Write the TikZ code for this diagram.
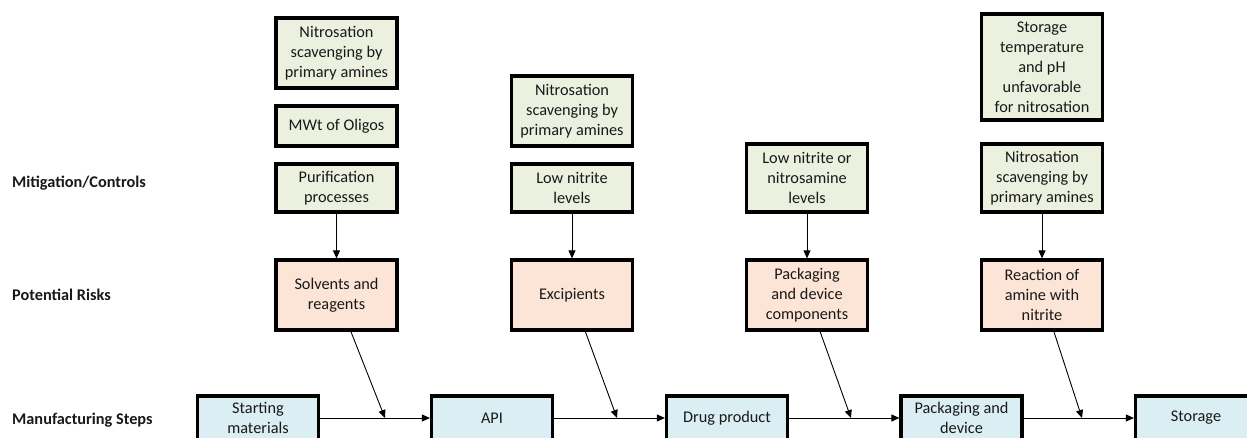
\documentclass[tikz,border=0pt]{standalone}
\usepackage{fontspec}
\setmainfont{Carlito}
\usetikzlibrary{arrows.meta}
\definecolor{mitfill}{RGB}{235,241,222}
\definecolor{riskfill}{RGB}{252,229,214}
\definecolor{stepfill}{RGB}{218,238,243}
\definecolor{txt}{RGB}{25,25,25}
\tikzset{
  box/.style={draw=black, line width=3.2pt, minimum width=121pt, inner sep=0pt,
    align=center, text=txt, font=\fontsize{16.3}{20}\selectfont},
  mitbox/.style={box, fill=mitfill},
  riskbox/.style={box, fill=riskfill, minimum height=70pt},
  stepbox/.style={box, fill=stepfill, minimum height=44pt},
  rowlabel/.style={anchor=west, inner sep=0pt, text=txt, font=\fontsize{16.3}{20}\selectfont\bfseries},
  arr/.style={draw=black, line width=0.9pt, -{Triangle[length=8pt,width=7pt]}}
}
\begin{document}
\begin{tikzpicture}[x=1pt,y=-1pt]
\clip (0,0) rectangle (1247,438);
\fill[white] (0,0) rectangle (1247,438);
% row labels
\node[rowlabel] (lm) at (12,183) {Mitigation/Controls};
\node[rowlabel] (lr) at (12,295) {Potential Risks};
\node[rowlabel] (ls) at (12,420) {Manufacturing Steps};
% column 1
\node[mitbox, minimum height=70pt] (n1a) at (336.5,53) {Nitrosation\\scavenging by\\primary amines};
\node[mitbox, minimum height=40pt] (n1b) at (336.5,126) {MWt of Oligos};
\node[mitbox, minimum height=48pt] (n1c) at (336.5,188) {Purification\\processes};
\node[riskbox] (r1) at (336.5,295) {Solvents and\\reagents};
% column 2
\node[mitbox, minimum height=70pt] (n2a) at (572,111) {Nitrosation\\scavenging by\\primary amines};
\node[mitbox, minimum height=48pt] (n2b) at (572,188) {Low nitrite\\levels};
\node[riskbox] (r2) at (572,295) {Excipients};
% column 3
\node[mitbox, minimum height=68pt] (n3) at (807,178) {Low nitrite or\\nitrosamine\\levels};
\node[riskbox] (r3) at (807,295) {Packaging\\and device\\components};
% column 4
\node[mitbox, minimum height=106pt] (n4a) at (1042,67) {Storage\\temperature\\and pH\\unfavorable\\for nitrosation};
\node[mitbox, minimum height=68pt] (n4b) at (1042,178) {Nitrosation\\scavenging by\\primary amines};
\node[riskbox] (r4) at (1042,295) {Reaction of\\amine with\\nitrite};
% manufacturing steps
\node[stepbox] (s1) at (258,418) {Starting\\materials};
\node[stepbox] (s2) at (492,418) {API};
\node[stepbox] (s3) at (727,418) {Drug product};
\node[stepbox] (s4) at (961.5,418) {Packaging and\\device};
\node[stepbox] (s5) at (1196,418) {Storage};
% merge points on the process line
\coordinate (m1) at (385,418);
\coordinate (m2) at (617,418);
\coordinate (m3) at (851,418);
\coordinate (m4) at (1082,418);
% vertical arrows
\draw[arr] (n1c.south) -- (r1.north);
\draw[arr] (n2b.south) -- (r2.north);
\draw[arr] (n3.south) -- (r3.north);
\draw[arr] (n4b.south) -- (r4.north);
% horizontal arrows
\draw[arr] (s1.east) -- (s2.west);
\draw[arr] (s2.east) -- (s3.west);
\draw[arr] (s3.east) -- (s4.west);
\draw[arr] (s4.east) -- (s5.west);
% diagonal arrows
\draw[arr] (r1) -- (m1);
\draw[arr] (r2) -- (m2);
\draw[arr] (r3) -- (m3);
\draw[arr] (r4) -- (m4);
\end{tikzpicture}
\end{document}
